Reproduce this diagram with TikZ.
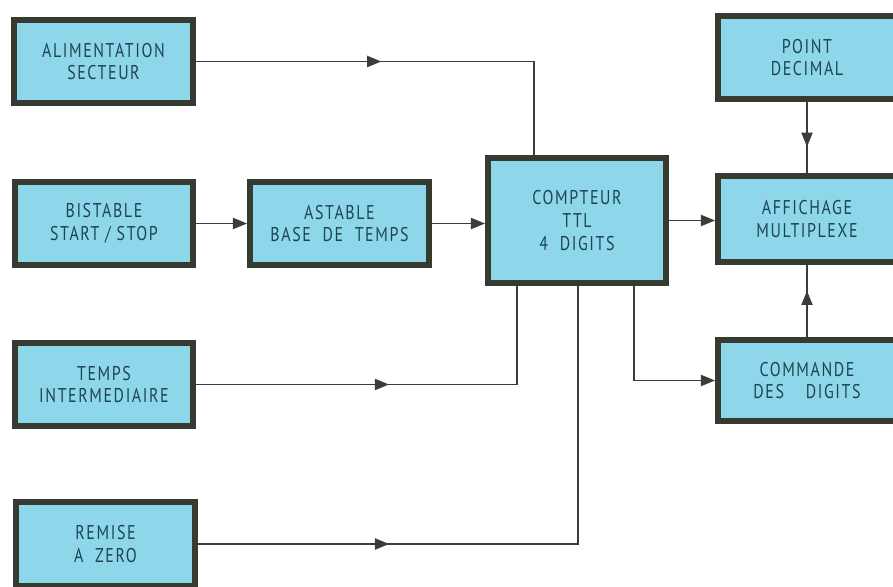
\documentclass[tikz,border=0pt]{standalone}
\usepackage{fontspec}
\setmainfont{PT Sans}
\newfontfamily\blockfont[LetterSpace=8, FakeStretch=0.8]{PT Sans}
\usepackage{xcolor}
\usetikzlibrary{arrows.meta, calc, decorations.markings}

\definecolor{boxfill}{HTML}{8ED7EB}
\definecolor{boxline}{HTML}{363B31}
\definecolor{boxtext}{HTML}{1E4452}
\definecolor{wirecol}{HTML}{3A3D38}

\begin{document}
\begin{tikzpicture}[
      x=0.03cm, y=-0.03cm,
      block/.style={
        rectangle, draw=boxline, fill=boxfill, line width=0.18cm,
        minimum width=5.34cm, minimum height=2.49cm, inner sep=0pt,
        align=center, text=boxtext,
        font=\blockfont\fontsize{17}{19.5}\selectfont},
      link/.style={wirecol, line width=1.3pt},
      arr/.style={link, -{Triangle[length=12pt, width=9.5pt]}},
      midarr/.style={link, postaction={decorate, decoration={markings,
        mark=at position #1 with {\arrow{Triangle[length=12pt, width=9.5pt]}}}}}
    ]
    \clip (0,0) rectangle (893,586);
    \fill[white] (0,0) rectangle (893,586);

    % --- Left column ---
    \node[block] (alim)   at (103.5,61.5) {ALIMENTATION\\SECTEUR};
    \node[block] (bist)   at (104,223.5)  {BISTABLE\\START / STOP};
    \node[block] (temps)  at (104,384.5)  {TEMPS\\INTERMEDIAIRE};
    \node[block, minimum height=2.52cm] (remise) at (105.5,544) {REMISE\\A~ ZERO};

    % --- Middle ---
    \node[block, minimum width=5.37cm] (astab) at (339.5,223.5) {ASTABLE\\BASE~ DE~ TEMPS};
    \node[block, minimum height=3.75cm] (cpt) at (577,220.5) {COMPTEUR\\TTL\\4~ DIGITS};

    % --- Right column ---
    \node[block, minimum height=2.49cm] (point) at (807,57.5)  {POINT\\DECIMAL};
    \node[block, minimum height=2.58cm] (affi)  at (807,219)   {AFFICHAGE\\MULTIPLEXE};
    \node[block, minimum height=2.43cm] (cmde)  at (807,380.5) {COMMANDE\\DES\hspace{1.1em}DIGITS};

    % --- Connectors ---
    \draw[midarr=0.43] (alim.east) -| ($(cpt.north)+(-43,0)$);
    \draw[arr] (bist) -- (astab);
    \draw[arr] (astab.east) -- (astab.east -| cpt.west);
    \draw[arr] (cpt.east) -- (cpt.east -| affi.west);
    \draw[midarr=0.63] (point) -- (affi);
    \draw[midarr=0.64] (cmde) -- (affi);
    \draw[midarr=0.46] (temps.east) -| ($(cpt.south)+(-60,0)$);
    \draw[midarr=0.30] (remise.east) -| ($(cpt.south)+(1,0)$);
    \draw[arr] ($(cpt.south)+(57,0)$) |- (cmde.west);
  \end{tikzpicture}
\end{document}
